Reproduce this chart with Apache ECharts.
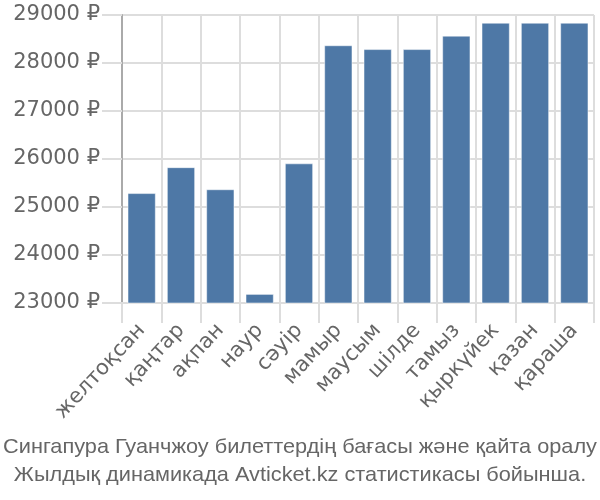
<!DOCTYPE html>
<html><head><meta charset="utf-8">
<script src="https://cdn.jsdelivr.net/npm/echarts@6/dist/echarts.min.js"></script>
<style>html,body{margin:0;padding:0;background:#fff}#c{width:600px;height:500px}</style>
</head><body><div id="c"></div>
<script>
const categories = ['желтоқсан','қаңтар','ақпан','наур','сәуір','мамыр','маусым','шілде','тамыз','қыркүйек','қазан','қараша'];
const prices = [25290, 25830, 25370, 23190, 25910, 28370, 28290, 28290, 28570, 28840, 28840, 28840];
const yTicks = [23000, 24000, 25000, 26000, 27000, 28000, 29000];
const titleLines = ['Сингапура Гуанчжоу билеттердің бағасы және қайта оралу', 'Жылдық динамикада Avticket.kz статистикасы бойынша.'];

const chart = echarts.init(document.getElementById('c'), null, {renderer: 'canvas'});
const titleStyle = {fill: '#666', fontSize: 21, fontFamily: 'Liberation Sans', textAlign: 'center', textVerticalAlign: 'middle'};
chart.setOption({
  animation: false,
  graphic: titleLines.map((t, i) => ({
    type: 'text', x: 300, y: 447 + i * 28, scaleX: 1.035,
    style: Object.assign({text: t}, titleStyle)
  })),
  grid: {left: 122, right: 6, top: 15, bottom: 197, containLabel: false},
  xAxis: {
    type: 'category', data: categories,
    axisLine: {show: true, lineStyle: {color: '#ddd', width: 2}},
    axisTick: {show: true, length: 20, lineStyle: {color: '#ddd', width: 2}},
    splitLine: {show: true, lineStyle: {color: '#ddd', width: 2}},
    axisLabel: {rotate: 47, color: '#666', fontSize: 21, fontFamily: 'DejaVu Sans', margin: 24, interval: 0}
  },
  yAxis: {
    type: 'value', min: yTicks[0], max: yTicks[yTicks.length - 1], interval: 1000,
    axisLine: {show: true, lineStyle: {color: '#aaa', width: 2}},
    axisTick: {show: true, length: 20, lineStyle: {color: '#ddd', width: 2}},
    splitLine: {show: true, lineStyle: {color: '#ddd', width: 2}},
    axisLabel: {color: '#666', fontSize: 21, fontFamily: 'DejaVu Sans', margin: 22, formatter: v => v + ' ₽'}
  },
  series: [{
    type: 'bar', data: prices, barCategoryGap: '28%',
    itemStyle: {color: '#4e78a6', borderColor: 'rgba(255,255,255,0.5)', borderWidth: 1}
  }]
});
</script></body></html>
